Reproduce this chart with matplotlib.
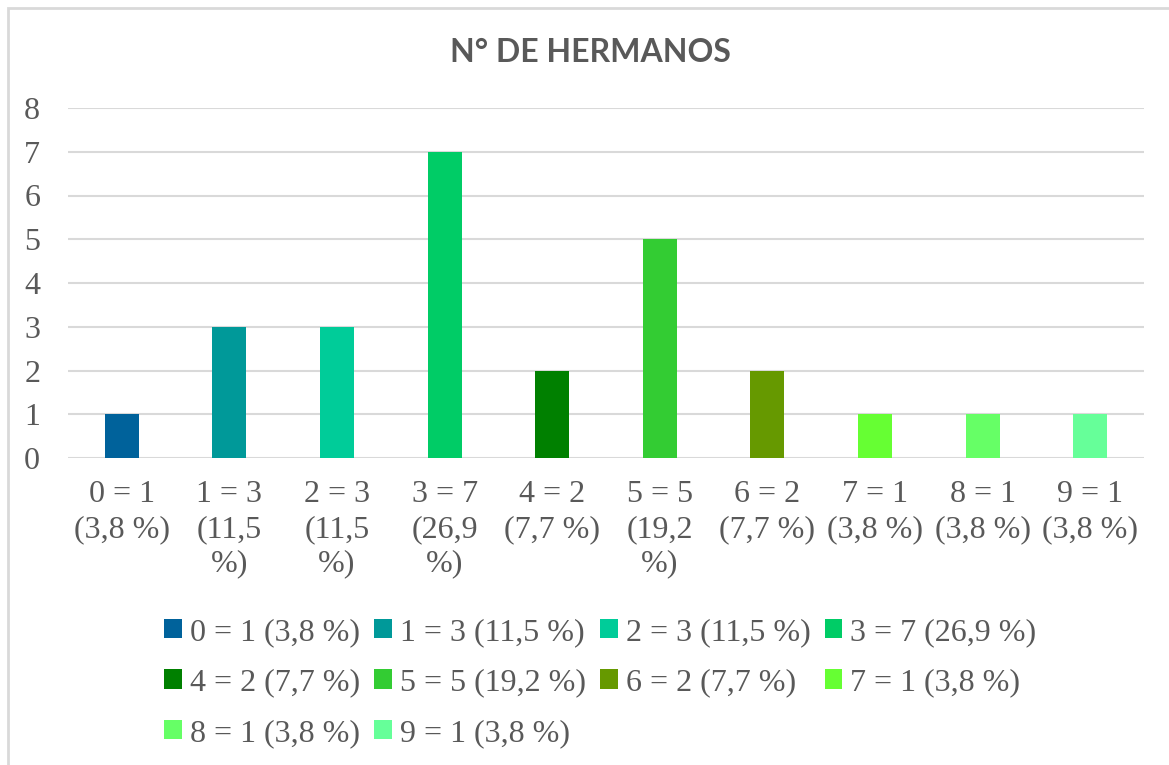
import matplotlib
matplotlib.use('Agg')
import matplotlib.pyplot as plt
from matplotlib.patches import Patch, Rectangle
import numpy as np

# data
categorias = ['0 = 1 (3,8 %)', '1 = 3 (11,5 %)', '2 = 3 (11,5 %)', '3 = 7 (26,9 %)',
              '4 = 2 (7,7 %)', '5 = 5 (19,2 %)', '6 = 2 (7,7 %)', '7 = 1 (3,8 %)',
              '8 = 1 (3,8 %)', '9 = 1 (3,8 %)']
etiquetas = ['0 = 1\n(3,8 %)', '1 = 3\n(11,5\n%)', '2 = 3\n(11,5\n%)', '3 = 7\n(26,9\n%)',
             '4 = 2\n(7,7 %)', '5 = 5\n(19,2\n%)', '6 = 2\n(7,7 %)', '7 = 1\n(3,8 %)',
             '8 = 1\n(3,8 %)', '9 = 1\n(3,8 %)']
valores = [1, 3, 3, 7, 2, 5, 2, 1, 1, 1]
colores = ['#00629b', '#009999', '#00cc99', '#00cc66', '#008000',
           '#33cc33', '#669900', '#66ff33', '#66ff66', '#66ff99']

gris = '#595959'
serif = 'Liberation Serif'

fig = plt.figure(figsize=(11.69, 7.65), dpi=100)
ax = fig.add_axes([68/1169, 1-458/765, (1144-68)/1169, (458-108)/765])

x = np.arange(len(valores))
ax.bar(x, valores, width=0.315, color=colores, zorder=3)

ax.set_xlim(-0.5, len(valores)-0.5)
ax.set_ylim(0, 8)
ax.set_yticks(range(0, 9))
ax.yaxis.grid(True, color='#d9d9d9', linewidth=1.5, zorder=0)
for s in ['top', 'right', 'left', 'bottom']:
    ax.spines[s].set_visible(False)
ax.tick_params(axis='both', length=0, colors=gris)
ax.set_xticks(x)
ax.set_xticklabels(etiquetas, fontsize=23, family=serif, color=gris, linespacing=1.25, va='top')
ax.tick_params(axis='x', pad=16)
ax.tick_params(axis='y', pad=20)
for t in ax.get_yticklabels():
    t.set_fontsize(23)
    t.set_family(serif)
    t.set_color(gris)

fig.text(0.5047, 1-52/765, 'N° DE HERMANOS', ha='center', va='center',
         fontsize=23, fontweight='bold', family='Lato', color=gris)

# legend fills column by column, so reorder to read row by row like Excel
orden = [0, 4, 8, 1, 5, 9, 2, 6, 3, 7]
handles = [Patch(facecolor=colores[i], edgecolor='none') for i in orden]
labels = [categorias[i] for i in orden]
fig.legend(handles, labels, ncol=4, loc='upper left',
           bbox_to_anchor=(164/1169, 1-618/765), frameon=False,
           prop={'family': serif, 'size': 23}, labelcolor=gris,
           handlelength=0.55, handleheight=0.55, handletextpad=0.25,
           columnspacing=0.45, labelspacing=0.67, borderpad=0, borderaxespad=0)

# chart border
fig.patches.append(Rectangle((8/1169, -0.1), 1.2, 1-8/765+0.1, transform=fig.transFigure,
                             fill=False, edgecolor='#d9d9d9', linewidth=2))

fig.savefig('out.png', dpi=100)
